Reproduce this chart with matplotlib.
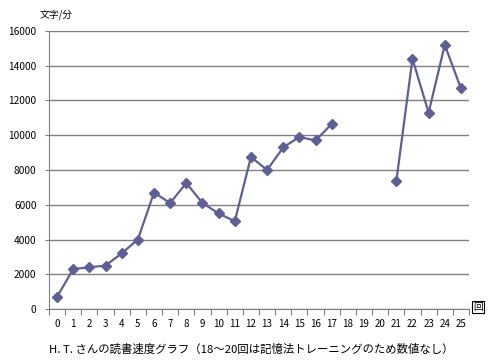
import numpy as np
import matplotlib
matplotlib.use('Agg')
import matplotlib.pyplot as plt

plt.rcParams['font.family'] = ['Noto Sans CJK JP', 'DejaVu Sans']

# データ（18〜20回は数値なし）
rounds = list(range(26))
speed = [700, 2300, 2400, 2500, 3200, 4000, 6700, 6100, 7250, 6100, 5500, 5050,
         8750, 8000, 9300, 9900, 9700, 10650, None, None, None,
         7350, 14400, 11300, 15200, 12700]
y_ticks = [0, 2000, 4000, 6000, 8000, 10000, 12000, 14000, 16000]
title = 'H. T. さんの読書速度グラフ（18～20回は記憶法トレーニングのため数値なし）'

vals = np.array([np.nan if v is None else v for v in speed], dtype=float)

fig = plt.figure(figsize=(4.93, 3.64), dpi=100)
ax = fig.add_axes([49 / 493, 55 / 364, 420 / 493, 278 / 364])

line_c = '#5f5f96'
grid_c = '#808080'

ax.plot(rounds, vals, color=line_c, lw=1.6, marker='D', ms=5,
        mfc=line_c, mec=line_c, zorder=3)

ax.set_xlim(-0.5, 25.5)
ax.set_ylim(0, 16000)
ax.set_yticks(y_ticks)
ax.set_yticklabels([str(t) for t in y_ticks], fontsize=7.3)
ax.yaxis.grid(True, color=grid_c, lw=1)
ax.set_axisbelow(True)

# x軸: 目盛は区切りに、ラベルは中央に
ax.set_xticks(np.arange(-0.5, 26, 1))
ax.set_xticklabels([])
ax.set_xticks(rounds, minor=True)
ax.set_xticklabels([str(r) for r in rounds], minor=True, fontsize=7)
ax.tick_params(axis='x', which='major', length=4, color=grid_c, direction='out')
ax.tick_params(axis='x', which='minor', length=0, pad=7)
ax.tick_params(axis='y', length=3, color=grid_c, pad=6)

for s in ['top', 'right']:
    ax.spines[s].set_visible(False)
ax.spines['left'].set_color(grid_c)
ax.spines['bottom'].set_color(grid_c)

fig.text(40 / 493, 1 - 15 / 364, '文字/分', fontsize=7, va='center', ha='left')
fig.text(478 / 493, 1 - 307 / 364, '回', fontsize=7, va='center', ha='center',
         bbox=dict(boxstyle='square,pad=0.1', fc='white', ec='black', lw=0.8))
fig.text(49 / 493, 1 - 349 / 364, title, fontsize=8.2, va='center', ha='left')

fig.savefig('out.png', dpi=100)
